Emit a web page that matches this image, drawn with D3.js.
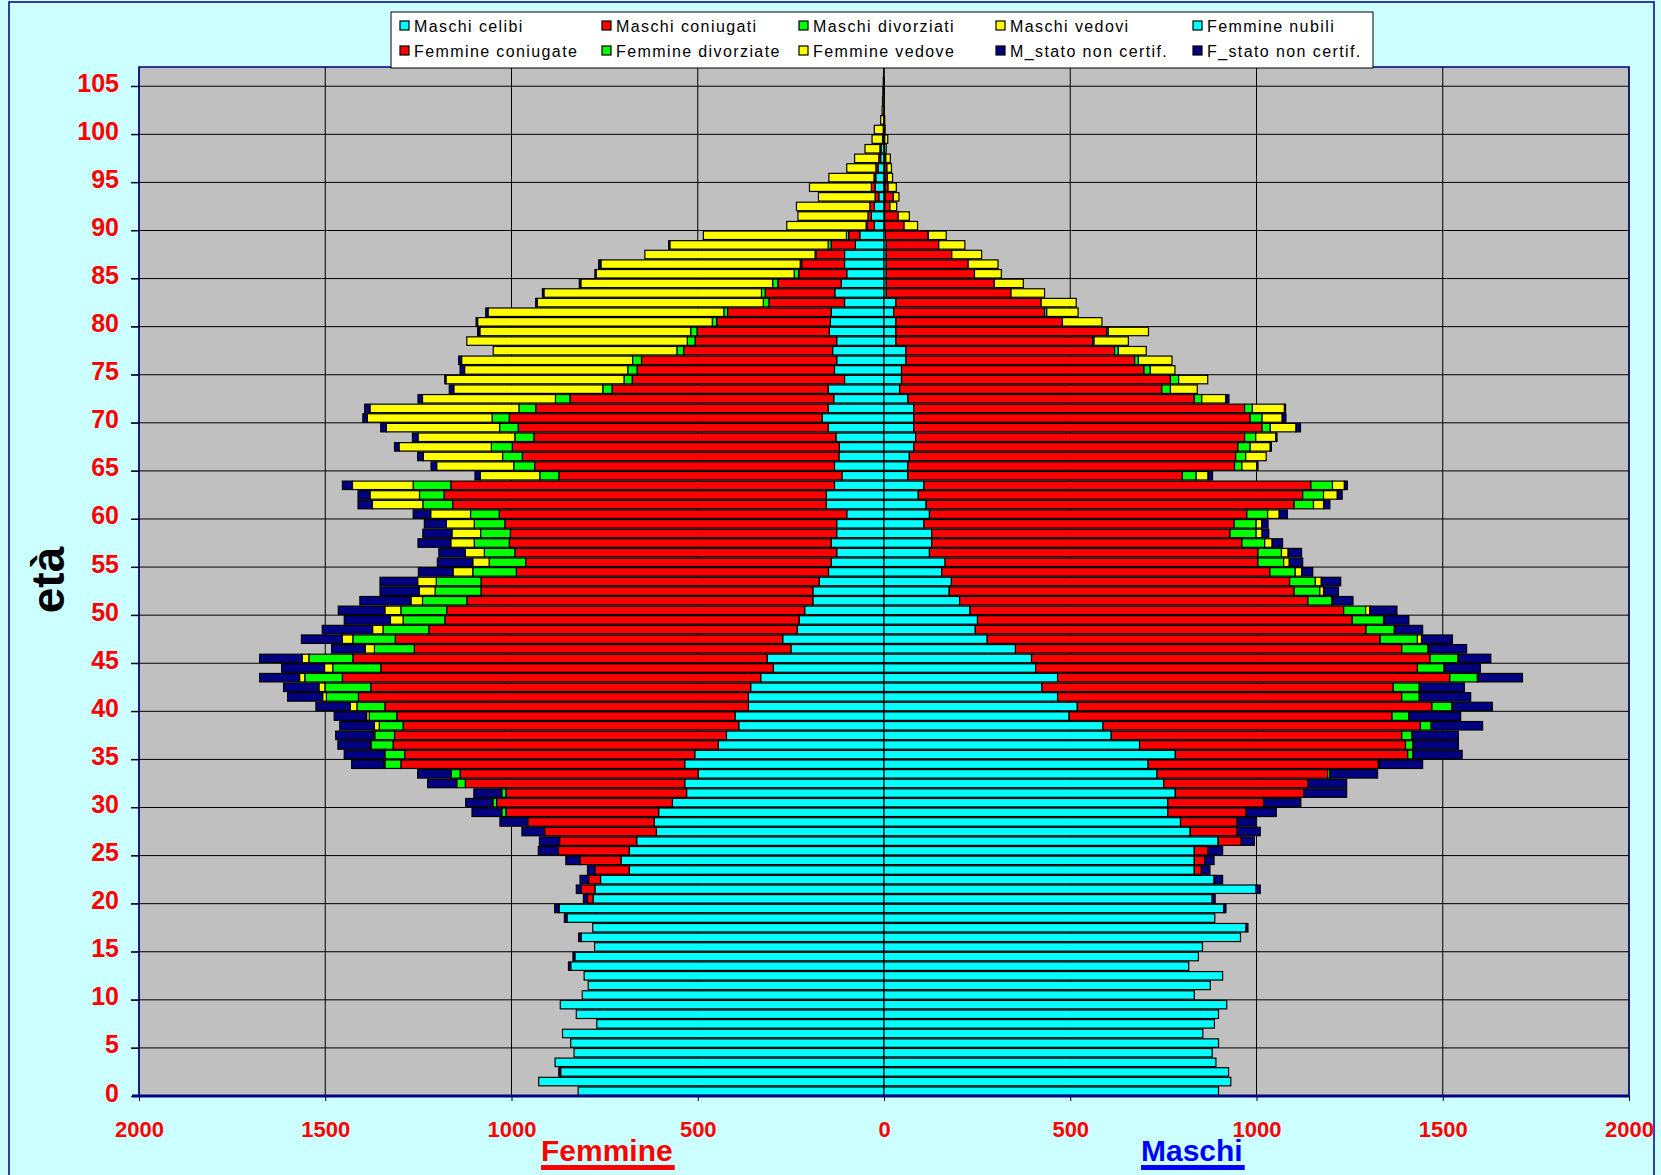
<!DOCTYPE html>
<html>
<head>
<meta charset="utf-8">
<script src="https://cdn.jsdelivr.net/npm/d3@7"></script>
<style>
body { margin: 0; background: #CCFFFF; }
svg { display: block; font-family: Arial, "Liberation Sans", sans-serif; }
</style>
</head>
<body>
<svg width="1661" height="1175"></svg>
<script>
// età 0..106
var ages = d3.range(0, 107);

// Maschi (destra)
var mCelibi = [898,931,925,891,881,898,856,887,898,920,
  833,876,909,818,844,855,957,972,888,912,
  881,999,886,833,833,833,897,822,796,762,
  762,782,751,733,709,782,686,610,588,497,
  519,466,424,466,407,396,353,277,245,251,
  231,203,175,181,155,164,122,128,128,107,
  122,113,92,107,64,64,68,80,85,80,
  80,80,64,42,47,47,59,59,32,32,
  32,26,32,6,6,6,6,6,6,4,
  2,2,2,3,3,3,2,2,1,1,
  0,0,0,0,0,0,0];
var mConiugati = [0,0,0,0,0,0,0,0,0,0,
  0,0,0,0,0,0,0,0,0,0,
  0,0,2,19,28,36,62,126,152,210,
  257,345,387,458,618,624,714,780,852,867,
  952,924,943,1053,1025,1070,1037,1055,1049,1006,
  1003,935,926,908,881,840,882,833,801,833,
  852,988,1032,1039,737,877,876,870,883,935,
  903,888,769,704,722,651,614,560,528,566,
  447,405,390,335,290,237,220,176,141,113,
  52,36,14,22,8,6,6,3,1,1,
  0,0,0,0,0,0,0];
var mDivorziati = [0,0,0,0,0,0,0,0,0,0,
  0,0,0,0,0,0,0,0,0,0,
  0,0,0,0,0,0,0,0,0,0,
  0,0,0,6,3,14,20,27,29,45,
  53,47,70,74,71,75,70,100,76,84,
  59,64,69,69,68,69,63,61,70,59,
  56,52,56,58,37,20,27,33,30,22,
  32,21,20,23,22,17,10,10,4,4,
  0,6,0,0,0,0,0,0,0,2,
  0,0,0,0,0,0,0,0,0,0,
  0,0,0,0,0,0,0];
var mVedovi = [0,0,0,0,0,0,0,0,0,0,
  0,0,0,0,0,0,0,0,0,0,
  0,0,0,0,0,0,0,0,0,0,
  0,0,0,0,0,0,2,2,0,0,
  2,2,2,2,3,2,3,11,2,2,
  11,3,10,16,17,15,18,20,16,15,
  31,27,37,32,32,40,55,54,54,69,
  54,86,64,72,78,66,90,75,92,108,
  106,84,94,90,78,72,80,80,70,48,
  36,30,18,15,22,14,12,12,4,8,
  3,2,1,1,1,1,0];
var mNonCert = [0,0,0,0,0,0,0,0,0,0,
  0,0,0,0,0,0,0,5,0,6,
  8,11,21,23,25,40,35,62,52,81,
  100,115,104,128,116,132,120,123,138,139,
  107,136,119,119,95,86,101,83,74,66,
  73,54,40,52,30,36,36,28,18,17,
  22,17,13,8,12,3,0,3,3,12,
  10,3,9,0,0,0,0,0,0,0,
  0,0,0,0,0,0,0,0,0,0,
  0,0,0,0,0,0,0,0,0,0,
  0,0,0,0,0,0,0];

// Femmine (sinistra)
var fNubili = [821,927,868,883,832,841,863,771,826,869,
  810,794,805,841,830,777,813,782,851,872,
  781,776,761,684,706,684,664,611,617,605,
  568,530,535,499,535,508,445,423,390,400,
  364,364,358,331,297,314,250,272,233,228,
  213,191,191,174,149,142,127,142,127,127,
  100,155,155,133,113,133,121,120,129,150,
  166,150,135,150,106,133,127,138,127,147,
  144,142,106,132,115,100,106,106,77,65,
  26,34,26,14,24,22,16,9,8,3,
  2,1,0,0,0,0,0];
var fConiugate = [0,0,0,0,0,0,0,0,0,0,
  0,0,0,0,0,0,0,0,0,0,
  15,37,32,92,110,190,207,300,339,410,
  472,485,589,639,762,779,873,891,901,908,
  976,1047,1020,1123,1054,1112,1011,1040,989,951,
  961,929,891,908,838,820,864,864,876,891,
  933,1003,1026,1030,760,805,850,878,811,832,
  840,785,708,580,570,530,524,400,380,355,
  305,278,203,187,170,129,115,76,65,30,
  20,9,12,10,10,5,6,5,3,1,
  0,0,0,0,0,0,0];
var fDivorziate = [0,0,0,0,0,0,0,0,0,0,
  0,0,0,0,0,0,0,0,0,0,
  0,0,0,0,0,0,0,0,0,11,
  10,11,23,24,43,53,59,53,64,74,
  75,86,123,101,129,118,107,114,123,112,
  123,119,123,120,117,98,82,94,80,82,
  77,80,66,101,51,56,53,56,51,50,
  46,45,39,25,22,25,24,18,21,17,
  12,10,15,10,14,12,4,3,8,6,
  2,0,0,0,0,0,0,0,0,0,
  0,0,0,0,0,0,0];
var fVedove = [0,0,0,0,0,0,0,0,0,0,
  0,0,0,0,0,0,0,0,0,0,
  0,0,0,0,0,0,0,0,0,0,
  0,0,0,0,3,0,2,4,13,7,
  18,10,16,14,22,18,25,28,28,34,
  43,31,43,50,53,44,51,63,77,75,
  107,136,133,163,160,207,213,248,260,304,
  335,400,357,400,478,438,459,493,592,566,
  630,633,607,584,515,532,535,457,425,384,
  213,188,197,152,166,121,78,65,40,28,
  24,8,5,4,3,2,1];
var fNonCert = [0,0,5,0,0,0,0,0,0,0,
  0,0,0,6,5,0,7,0,7,12,
  11,13,23,20,38,54,54,61,75,80,
  73,75,78,90,86,109,87,101,93,87,
  92,94,95,107,115,114,90,110,135,124,
  125,137,105,101,93,95,71,88,78,59,
  47,38,32,27,14,15,15,12,15,15,
  12,14,12,12,3,12,8,0,0,6,
  4,6,4,4,4,3,6,0,3,0,
  0,0,0,0,0,0,0,0,0,0,
  0,0,0,0,0,0,0];

var xTicks = d3.range(-2000, 2001, 500);
var yTicks = d3.range(0, 106, 5);

var maleKeys = ["mCel", "mCon", "mDiv", "mVed", "mNc"];
var femaleKeys = ["fNub", "fCon", "fDiv", "fVed", "fNc"];
var colors = {
  mCel: "#00FFFF", mCon: "#FF0000", mDiv: "#00FF00", mVed: "#FFFF00", mNc: "#000080",
  fNub: "#00FFFF", fCon: "#FF0000", fDiv: "#00FF00", fVed: "#FFFF00", fNc: "#000080"
};
var legendRows = [
  [["Maschi celibi", "mCel"], ["Maschi coniugati", "mCon"], ["Maschi divorziati", "mDiv"], ["Maschi vedovi", "mVed"], ["Femmine nubili", "fNub"]],
  [["Femmine coniugate", "fCon"], ["Femmine divorziate", "fDiv"], ["Femmine vedove", "fVed"], ["M_stato non certif.", "mNc"], ["F_stato non certif.", "fNc"]]
];

var table = ages.map(function (a, i) {
  return {
    age: a,
    mCel: mCelibi[i], mCon: mConiugati[i], mDiv: mDivorziati[i], mVed: mVedovi[i], mNc: mNonCert[i],
    fNub: fNubili[i], fCon: fConiugate[i], fDiv: fDivorziate[i], fVed: fVedove[i], fNc: fNonCert[i]
  };
});

var svg = d3.select("svg");

var x = d3.scaleLinear().domain([-2000, 2000]).range([139, 1629]);
var y = d3.scaleLinear().domain([0, 107]).range([1096, 67]);

// cornice esterna
svg.append("rect")
  .attr("x", 9).attr("y", 2).attr("width", 1645).attr("height", 1190)
  .attr("fill", "#CCFFFF").attr("stroke", "#000080").attr("stroke-width", 1.5);

// area del grafico
svg.append("rect")
  .attr("x", x(-2000)).attr("y", y(107))
  .attr("width", x(2000) - x(-2000)).attr("height", y(0) - y(107))
  .attr("fill", "#C0C0C0");

// griglia
svg.append("g").selectAll("line")
  .data(yTicks.filter(function (d) { return d > 0; }))
  .enter().append("line")
  .attr("x1", x(-2000) - 8).attr("x2", x(2000))
  .attr("y1", function (d) { return y(d); }).attr("y2", function (d) { return y(d); })
  .attr("stroke", "#000").attr("stroke-width", 1);

svg.append("g").selectAll("line")
  .data(xTicks)
  .enter().append("line")
  .attr("x1", function (d) { return x(d); }).attr("x2", function (d) { return x(d); })
  .attr("y1", y(107)).attr("y2", y(0))
  .attr("stroke", "#000").attr("stroke-width", 1);

// barre
var band = 0.06;
function drawSide(keys, sign) {
  var series = d3.stack().keys(keys)(table);
  svg.append("g").selectAll("g")
    .data(series)
    .enter().append("g")
    .attr("fill", function (s) { return colors[s.key]; })
    .selectAll("rect")
    .data(function (s) { return s.filter(function (d) { return d[1] > d[0]; }); })
    .enter().append("rect")
    .attr("x", function (d) { return sign > 0 ? x(d[0]) : x(-d[1]); })
    .attr("width", function (d) { return Math.abs(x(d[1]) - x(d[0])); })
    .attr("y", function (d) { return y(d.data.age + 1 - band); })
    .attr("height", function (d) { return y(d.data.age + band) - y(d.data.age + 1 - band); })
    .attr("stroke", "#000")
    .attr("stroke-width", 1.2);
}
drawSide(femaleKeys, -1);
drawSide(maleKeys, 1);

// bordo area
svg.append("rect")
  .attr("x", x(-2000)).attr("y", y(107))
  .attr("width", x(2000) - x(-2000)).attr("height", y(0) - y(107))
  .attr("fill", "none").attr("stroke", "#000080").attr("stroke-width", 1.5);

// assi
var xAxis = d3.axisBottom(x)
  .tickValues(xTicks)
  .tickFormat(function (d) { return Math.abs(d); })
  .tickSize(5)
  .tickPadding(20);
svg.append("g")
  .attr("transform", "translate(0," + y(0) + ")")
  .call(xAxis)
  .call(function (g) { g.select(".domain").remove(); })
  .call(function (g) { g.selectAll("line").attr("stroke", "#000"); })
  .selectAll("text")
  .attr("fill", "#FF0000")
  .style("font-size", "22px")
  .style("font-weight", "bold")
  .style("font-family", "Arial, 'Liberation Sans', sans-serif");

var yAxis = d3.axisLeft(y)
  .tickValues(yTicks)
  .tickSize(8)
  .tickPadding(12);
svg.append("g")
  .attr("transform", "translate(" + x(-2000) + ",0)")
  .call(yAxis)
  .call(function (g) { g.select(".domain").remove(); })
  .call(function (g) { g.selectAll("line").attr("stroke", "#000"); })
  .selectAll("text")
  .attr("dy", "0.2em")
  .attr("fill", "#FF0000")
  .style("font-size", "25px")
  .style("font-weight", "bold")
  .style("font-family", "Arial, 'Liberation Sans', sans-serif");

svg.append("line")
  .attr("x1", x(-2000) - 7).attr("x2", x(2000))
  .attr("y1", y(0)).attr("y2", y(0))
  .attr("stroke", "#000080").attr("stroke-width", 3);

// titoli
svg.append("text")
  .attr("transform", "translate(48,580) rotate(-90)")
  .attr("text-anchor", "middle")
  .attr("dominant-baseline", "central")
  .style("font-size", "46px").style("font-weight", "bold")
  .attr("fill", "#000")
  .text("età");

function sideTitle(label, x0, color) {
  var t = svg.append("text")
    .attr("x", x0).attr("y", 1161)
    .style("font-size", "30px").style("font-weight", "bold")
    .attr("fill", color)
    .text(label);
  var w = t.node().getComputedTextLength();
  svg.append("rect")
    .attr("x", x0).attr("y", 1165).attr("width", w + 2).attr("height", 5)
    .attr("fill", color);
}
sideTitle("Femmine", 541, "#FF0000");
sideTitle("Maschi", 1141, "#0000FF");

// legenda
var legend = svg.append("g");
legend.append("rect")
  .attr("x", 391).attr("y", 12).attr("width", 982).attr("height", 56)
  .attr("fill", "#FFFFFF").attr("stroke", "#000").attr("stroke-width", 1);
var colX = [400, 602, 799, 996, 1193];
var rowY = [26, 51];
legendRows.forEach(function (row, r) {
  row.forEach(function (item, c) {
    legend.append("rect")
      .attr("x", colX[c]).attr("y", rowY[r] - 5)
      .attr("width", 9).attr("height", 9)
      .attr("fill", colors[item[1]]).attr("stroke", "#000").attr("stroke-width", 1.2);
    legend.append("text")
      .attr("x", colX[c] + 14).attr("y", rowY[r] + 5.5)
      .style("font-size", "16px")
      .style("letter-spacing", "1.4px")
      .attr("fill", "#000")
      .text(item[0]);
  });
});
</script>
</body>
</html>
